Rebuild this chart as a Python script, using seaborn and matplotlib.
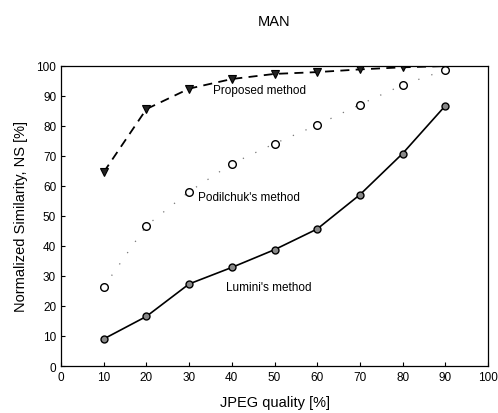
import matplotlib
matplotlib.use("Agg")
import matplotlib.pyplot as plt
import seaborn as sns
import pandas as pd

quality = [10, 20, 30, 40, 50, 60, 70, 80, 90]
proposed = [64.5, 85.5, 92.3, 95.5, 97.2, 97.8, 98.7, 99.4, 99.8]
podilchuk = [26.3, 46.7, 58.0, 67.3, 74.0, 80.2, 87.0, 93.5, 98.5]
lumini = [9.0, 16.5, 27.3, 32.8, 38.7, 45.6, 57.0, 70.7, 86.6]

sns.set_theme(style="ticks")
plt.rcParams['font.family'] = ['Liberation Sans', 'DejaVu Sans']
plt.rcParams['text.color'] = 'black'
plt.rcParams['axes.labelcolor'] = 'black'

df = pd.DataFrame({"q": quality, "prop": proposed, "pod": podilchuk, "lum": lumini})

fig = plt.figure(figsize=(4.98, 4.14), dpi=100)
ax = fig.add_axes([61/498, 1-367/414, (488-61)/498, (367-66.5)/414])

sns.lineplot(data=df, x="q", y="prop", ax=ax, color="black", linestyle=(0, (5, 3.5)),
             linewidth=1.3, marker="v", markersize=5.5, markerfacecolor="#222222",
             markeredgecolor="black", markeredgewidth=0.8)
sns.lineplot(data=df, x="q", y="pod", ax=ax, color="#777777", linestyle=(0, (1, 10)),
             linewidth=0.9, marker="o", markersize=5.5, markerfacecolor="white",
             markeredgecolor="black", markeredgewidth=1.0)
sns.lineplot(data=df, x="q", y="lum", ax=ax, color="black", linestyle="-",
             linewidth=1.2, marker="o", markersize=5, markerfacecolor="#888888",
             markeredgecolor="black", markeredgewidth=1.0)

ax.set_xlim(0, 100)
ax.set_ylim(0, 100)
ax.set_xticks(range(0, 101, 10))
ax.set_yticks(range(0, 101, 10))
ax.tick_params(direction="in", length=3, labelsize=8.5, colors="black", width=0.8)
for s in ax.spines.values():
    s.set_color("black")
    s.set_linewidth(0.9)
ax.spines["top"].set_visible(True)
ax.spines["right"].set_visible(True)

ax.set_xlabel("JPEG quality [%]", fontsize=10.5, labelpad=9)
ax.set_ylabel("Normalized Similarity, NS [%]", fontsize=10.5, labelpad=6)
fig.text(274/498, 1-22/414, "MAN", ha="center", va="center", fontsize=10.5)

ax.text(35.5, 92.0, "Proposed method", fontsize=8.5, va="center", ha="left")
ax.text(32.0, 56.3, "Podilchuk's method", fontsize=8.5, va="center", ha="left")
ax.text(38.7, 26.3, "Lumini's method", fontsize=8.5, va="center", ha="left")

fig.savefig("out.png", dpi=100)
